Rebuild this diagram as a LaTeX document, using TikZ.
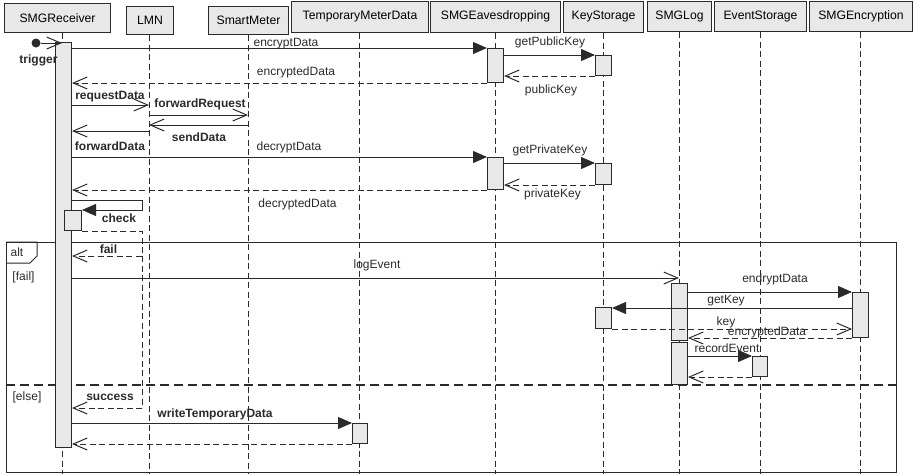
\documentclass[tikz,border=0pt]{standalone}
\usepackage{fontspec}
\setmainfont{Liberation Sans}
\usetikzlibrary{arrows.meta}
\definecolor{boxfill}{HTML}{E8E8E8}
\definecolor{ink}{HTML}{2A2A2A}
\tikzset{
  head/.style={draw=ink, fill=boxfill, line width=1pt, inner sep=0pt, anchor=north west, font=\fontsize{12.2}{14}\selectfont},
  actbox/.style={draw=ink, fill=boxfill, line width=1pt, inner sep=0pt, anchor=north west},
  life/.style={draw=ink, line width=0.8pt, dash pattern=on 6pt off 3.5pt},
  call/.style={draw=ink, line width=1pt, -{Triangle[length=14pt,width=12pt]}},
  async/.style={draw=ink, line width=1pt, -{Straight Barb[length=14pt,width=12pt]}},
  reply/.style={async, dash pattern=on 6pt off 3.5pt},
  lbl/.style={font=\fontsize{12}{14}\selectfont, text=ink, inner sep=0pt},
  blbl/.style={font=\bfseries\fontsize{12}{14}\selectfont, text=ink, inner sep=0pt},
}
\begin{document}
\begin{tikzpicture}[x=1pt,y=-1pt]
\useasboundingbox (0,0) rectangle (913,474);
% headers
\node[head, minimum width=106pt, minimum height=29pt] (hR) at (4,3) {SMGReceiver};
\node[head, minimum width=47pt, minimum height=28pt] (hL) at (126,6) {LMN};
\node[head, minimum width=80pt, minimum height=28pt] (hS) at (208,6) {SmartMeter};
\node[head, minimum width=137pt, minimum height=31.5pt] (hT) at (291,0.5) {TemporaryMeterData};
\node[head, minimum width=130pt, minimum height=31.5pt] (hE) at (430,0.5) {SMGEavesdropping};
\node[head, minimum width=80pt, minimum height=31.5pt] (hK) at (563,0.5) {KeyStorage};
\node[head, minimum width=64pt, minimum height=30.5pt] (hG) at (647,0.5) {SMGLog};
\node[head, minimum width=92pt, minimum height=30.5pt] (hV) at (714,0.5) {EventStorage};
\node[head, minimum width=103pt, minimum height=30.5pt] (hC) at (809,0.5) {SMGEncryption};
% lifeline x positions
\coordinate (xR) at (62,0);
\coordinate (xL) at (149,0);
\coordinate (xS) at (248,0);
\coordinate (xT) at (359,0);
\coordinate (xE) at (495,0);
\coordinate (xK) at (603,0);
\coordinate (xG) at (679,0);
\coordinate (xV) at (760,0);
\coordinate (xC) at (860,0);
\foreach \h/\x in {hR/xR,hL/xL,hS/xS,hT/xT,hE/xE,hK/xK,hG/xG,hV/xV,hC/xC}
  \draw[life] (\x |- \h.south) -- (\x |- 0,474);
% alt frame
\node[draw=ink, line width=1pt, anchor=north west, minimum width=890pt, minimum height=230pt, inner sep=0pt] (altF) at (6,242) {};
\draw[draw=ink, line width=1pt] (altF.north west) -- ++(31,0) -- ++(0,14) -- ++(-7,7) -- ++(-24,0);
\node[lbl] (altT) at (17,252.5) {alt};
\node[lbl] (gFail) at (23.5,277) {[fail]};
\node[lbl] (gElse) at (27,397) {[else]};
\draw[draw=ink, line width=1.6pt, dash pattern=on 9pt off 5pt] (altF.west |- 0,385) -- (altF.east |- 0,385);
% activations
\node[actbox, minimum width=16pt, minimum height=405pt] (rA) at (55,42) {};
\node[actbox, minimum width=16pt, minimum height=34pt] (eA1) at (487,48) {};
\node[actbox, minimum width=16pt, minimum height=20pt] (kA1) at (595,55) {};
\node[actbox, minimum width=16pt, minimum height=32pt] (eA2) at (487,157) {};
\node[actbox, minimum width=16pt, minimum height=21pt] (kA2) at (595,163) {};
\node[actbox, minimum width=17pt, minimum height=20pt] (cA) at (64,210) {};
\node[actbox, minimum width=16pt, minimum height=57pt] (lA1) at (671,283) {};
\node[actbox, minimum width=16pt, minimum height=45pt] (encA) at (852,292) {};
\node[actbox, minimum width=16pt, minimum height=21pt] (kA3) at (595,307) {};
\node[actbox, minimum width=16pt, minimum height=42pt] (lA2) at (671,342) {};
\node[actbox, minimum width=15pt, minimum height=20pt] (evA) at (752,356) {};
\node[actbox, minimum width=15pt, minimum height=20pt] (tA) at (352,423) {};
% trigger
\node[circle, fill=ink, minimum size=9pt, inner sep=0pt] (trg) at (36,43) {};
\draw[async] (trg) -- (xR |- trg);
\node[blbl] (tTrig) at (38.5,60) {trigger};
% encryptData
\draw[call] (rA.east |- eA1.north) -- (eA1.north west);
\node[lbl] (t1) at (286,43.5) {encryptData};
\draw[call] (eA1.east |- kA1.north) -- (kA1.north west);
\node[lbl] (t2) at (550,42) {getPublicKey};
\draw[reply] (kA1.south west) -- (eA1.east |- kA1.south);
\node[lbl] (t3) at (551,90) {publicKey};
\draw[reply] (eA1.south west) -- (rA.east |- eA1.south);
\node[lbl] (t4) at (296,72) {encryptedData};
% request / forward
\coordinate (m6) at (149,105);
\draw[async] (rA.east |- m6) -- (m6);
\node[blbl] (t5) at (110,97) {requestData};
\coordinate (m7a) at (149,115);
\coordinate (m7b) at (248,115);
\draw[async] (m7a) -- (m7b);
\node[blbl] (t6) at (200,104.5) {forwardRequest};
\coordinate (m8a) at (248,125);
\coordinate (m8b) at (149,125);
\draw[async] (m8a) -- (m8b);
\node[blbl] (t7) at (199,137) {sendData};
\coordinate (m9) at (149,131);
\draw[async] (m9) -- (rA.east |- m9);
\node[blbl] (t8) at (110,146) {forwardData};
% decrypt
\draw[call] (rA.east |- eA2.north) -- (eA2.north west);
\node[lbl] (t9) at (289,147.5) {decryptData};
\draw[call] (eA2.east |- kA2.north) -- (kA2.north west);
\node[lbl] (t10) at (550,150) {getPrivateKey};
\draw[reply] (kA2.south west) -- (eA2.east |- kA2.south);
\node[lbl] (t11) at (552.5,194) {privateKey};
\draw[reply] (eA2.south west) -- (rA.east |- eA2.south);
\node[lbl] (t12) at (297.5,204) {decryptedData};
% check
\coordinate (ck1) at (142,200);
\coordinate (ck2) at (142,210);
\draw[call] (rA.east |- ck1) -- (ck1) -- (ck2) -- (cA.north east |- ck2);
\node[blbl] (t13) at (119,218.5) {check};
% fail / success
\coordinate (f1) at (142,231);
\coordinate (f2) at (142,256);
\coordinate (s2) at (142,408);
\draw[reply] (cA.south east) -- (f1) -- (f2) -- (rA.east |- f2);
\node[blbl] (t14) at (108.5,249) {fail};
\draw[reply] (f2) -- (s2) -- (rA.east |- s2);
\node[blbl] (t15) at (110,397) {success};
% logEvent
\coordinate (lg) at (679,278);
\draw[async] (rA.east |- lg) -- (lg);
\node[lbl] (t16) at (377,265) {logEvent};
\draw[call] (lA1.east |- encA.north) -- (encA.north west);
\node[lbl] (t17) at (775,279) {endryptData};
\coordinate (gk) at (852,308);
\draw[call] (gk) -- (kA3.east |- gk);
\node[lbl] (t18) at (726,300.5) {getKey};
\draw[reply] (kA3.south east) -- (encA.west |- kA3.south);
\node[lbl] (t19) at (726,322) {key};
\draw[reply] (encA.south west) -- (lA1.east |- encA.south);
\node[lbl] (t20) at (767,332) {encryptedData};
\draw[call] (lA2.east |- evA.north) -- (evA.north west);
\node[lbl] (t21) at (727,348) {recordEvent};
\draw[reply] (evA.south west) -- (lA2.east |- evA.south);
% writeTemporaryData
\draw[call] (rA.east |- tA.north) -- (tA.north west);
\node[blbl] (t22) at (215,414) {writeTemporaryData};
\draw[reply] (tA.south west) -- (rA.east |- tA.south);
\end{tikzpicture}
\end{document}
